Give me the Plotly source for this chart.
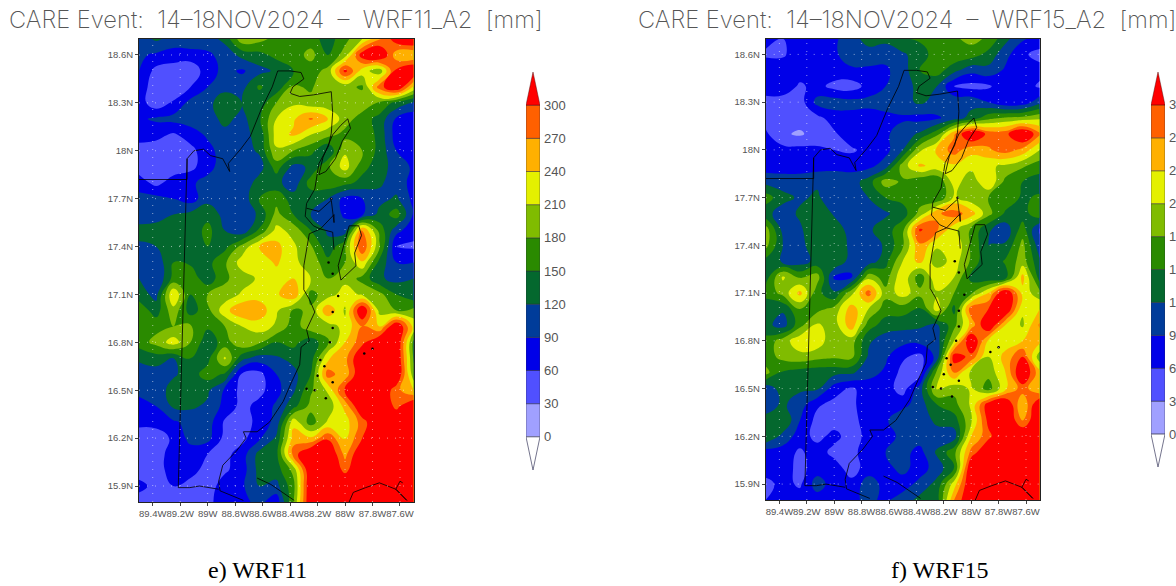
import plotly.graph_objects as go

lons = [-89.5, -89.375, -89.25, -89.125, -89.0, -88.875, -88.75, -88.625, -88.5,
        -88.375, -88.25, -88.125, -88.0, -87.875, -87.75, -87.625, -87.5]
lats = [18.7, 18.6, 18.5, 18.4, 18.3, 18.2, 18.1, 18.0, 17.9, 17.8, 17.7, 17.6, 17.5, 17.4, 17.3,
        17.2, 17.1, 17.0, 16.9, 16.8, 16.7, 16.6, 16.5, 16.4, 16.3, 16.2, 16.1, 16.0, 15.9, 15.8]

wrf11 = [
 [105,125,110,115,105,130,200,190,170,160,165,135,170,210,265,320,340],
 [95,85,75,75,85,100,130,140,160,165,190,150,195,320,345,250,240],
 [90,50,45,40,75,100,85,110,125,150,165,190,310,225,190,310,340],
 [75,45,30,60,90,110,110,155,130,185,175,205,190,175,285,340,235],
 [75,40,65,100,110,140,120,130,180,205,190,190,185,200,175,140,115],
 [85,95,100,105,105,130,110,145,210,235,275,240,195,165,140,85,70],
 [75,70,55,75,95,110,115,125,225,245,210,190,170,175,140,75,80],
 [45,42,40,50,80,105,105,125,205,180,160,120,205,180,140,90,65],
 [45,42,42,50,80,105,100,105,165,110,125,175,225,160,135,105,85],
 [75,50,75,85,100,100,95,135,130,100,165,170,160,140,125,105,80],
 [100,100,90,75,110,115,100,150,170,135,130,120,80,90,110,125,80],
 [105,100,120,130,140,110,100,125,190,150,120,110,85,85,130,165,85],
 [130,140,140,130,160,120,100,155,220,200,150,115,105,275,170,100,70],
 [115,120,130,145,150,140,190,240,250,215,185,130,175,300,185,60,55],
 [105,100,150,145,140,175,225,220,245,215,200,160,180,235,140,90,90],
 [120,90,160,170,130,175,195,215,225,240,210,180,200,170,125,110,120],
 [135,110,240,150,180,190,215,225,235,265,170,195,225,205,190,150,125],
 [170,135,200,135,170,230,265,260,215,175,185,265,205,340,200,180,190],
 [175,170,180,185,155,180,210,225,205,165,200,195,220,270,240,340,230],
 [165,190,225,180,130,165,205,185,150,160,130,175,240,290,340,340,170],
 [125,135,120,150,140,215,130,105,115,130,135,235,260,340,340,340,175],
 [105,105,115,135,165,145,55,50,90,110,150,285,250,340,340,340,190],
 [100,100,135,130,125,85,50,50,80,115,175,215,310,340,340,280,240],
 [75,90,125,125,115,80,50,70,95,140,190,190,250,340,340,290,340],
 [65,70,85,100,105,55,45,70,100,230,165,215,225,285,340,340,340],
 [50,45,65,100,100,50,50,85,125,255,245,295,235,300,340,340,340],
 [45,50,70,75,60,50,75,130,140,285,340,340,260,340,340,340,340],
 [45,45,75,70,50,55,75,130,135,190,340,340,290,340,340,340,340],
 [70,50,60,50,45,75,85,120,110,170,340,340,340,340,340,340,340],
 [45,45,45,50,55,70,80,100,70,180,340,340,340,340,340,340,340],
]

wrf15 = [
 [70,60,75,85,85,105,135,130,150,155,170,175,190,175,130,95,80],
 [55,55,80,85,85,105,105,100,115,135,165,175,165,140,100,65,50],
 [80,80,75,75,80,85,85,85,105,150,165,130,100,110,85,75,70],
 [75,80,55,70,50,45,70,90,105,130,120,60,50,55,80,75,55],
 [50,45,45,100,105,100,100,105,110,125,110,110,110,90,65,70,110],
 [50,40,45,50,75,80,75,80,85,80,85,105,130,170,185,190,205],
 [65,35,25,45,55,80,85,85,105,125,170,265,345,290,290,345,275],
 [70,70,70,65,60,55,70,80,120,205,245,285,250,265,285,260,210],
 [75,75,75,75,85,80,80,105,195,245,230,235,220,215,205,185,165],
 [110,105,105,115,100,105,135,195,175,155,150,225,190,240,170,150,135],
 [165,130,115,125,100,110,120,150,160,165,150,215,190,180,170,145,155],
 [130,105,125,150,115,105,105,115,135,190,265,285,255,190,145,135,175],
 [195,110,115,145,140,105,115,135,170,305,275,220,175,125,100,165,85],
 [190,120,110,140,150,110,100,125,175,265,215,240,175,120,125,190,100],
 [140,115,105,130,150,105,100,140,210,250,190,225,175,120,155,195,125],
 [135,215,175,195,85,85,200,165,235,160,240,210,140,125,135,250,135],
 [160,190,250,160,125,200,285,190,225,190,205,180,175,240,340,230,190],
 [130,125,180,170,190,255,210,165,165,145,225,140,290,300,340,215,240],
 [130,105,170,215,195,260,165,135,130,125,115,170,250,340,240,205,275],
 [160,195,230,230,185,195,125,105,100,100,105,210,340,235,225,240,250],
 [165,190,200,190,185,190,115,95,65,50,100,320,290,210,250,300,190],
 [190,145,135,130,130,125,100,85,50,45,190,270,200,190,240,340,250],
 [100,135,125,125,75,55,75,75,45,105,215,190,215,165,235,285,240],
 [105,125,105,65,50,50,85,90,80,105,150,170,215,320,340,240,340],
 [130,150,90,50,45,45,80,85,115,95,130,135,205,310,340,270,340],
 [150,110,75,50,70,45,70,75,100,105,100,105,240,290,340,340,340],
 [75,75,55,75,50,45,85,90,100,80,125,170,280,340,340,340,340],
 [75,75,50,75,75,45,75,80,100,75,105,145,340,340,340,340,340],
 [50,70,55,105,75,70,105,80,75,100,130,225,340,340,340,340,340],
 [60,70,75,75,75,85,95,85,105,130,135,270,340,340,340,340,340],
]

levels = [0, 30, 60, 90, 120, 150, 180, 210, 240, 270, 300]
band_colors = ["#ffffff", "#a0a0ff", "#5050ff", "#0000e8", "#003c9a", "#04682e",
               "#2a8a00", "#80bc00", "#e4f000", "#ffb000", "#ff6000", "#ff0000"]

lon_ticks = [-89.4, -89.2, -89.0, -88.8, -88.6, -88.4, -88.2, -88.0, -87.8, -87.6]
lon_labels = ["89.4W", "89.2W", "89W", "88.8W", "88.6W", "88.4W", "88.2W", "88W", "87.8W", "87.6W"]
lat_ticks = [15.9, 16.2, 16.5, 16.8, 17.1, 17.4, 17.7, 18.0, 18.3, 18.6]
lat_labels = ["15.9N", "16.2N", "16.5N", "16.8N", "17.1N", "17.4N", "17.7N", "18N", "18.3N", "18.6N"]

coast_lon = [-89.15,-89.10,-89.03,-88.98,-88.89,-88.84,-88.85,-88.76,-88.69,-88.61,-88.53,-88.49,-88.40,
             -88.32,-88.30,-88.38,-88.40,-88.33,-88.23,-88.10,-88.09,-88.10,-88.12,-88.19,-88.22,-88.28,
             -88.29,-88.23,-88.18,-88.26,-88.30,-88.30,-88.26,-88.22,-88.28,-88.26,-88.32,-88.33,-88.39,
             -88.45,-88.55,-88.64,-88.74,-88.72,-88.79,-88.89,-88.92,-88.91,-88.74]
coast_lat = [17.95,18.00,18.01,17.97,17.95,17.87,17.92,18.01,18.09,18.26,18.40,18.50,18.50,
             18.49,18.45,18.40,18.36,18.34,18.35,18.37,18.24,18.11,18.03,17.92,17.76,17.67,
             17.59,17.53,17.51,17.48,17.28,17.13,17.07,16.99,16.88,16.81,16.77,16.66,16.55,
             16.43,16.30,16.24,16.24,16.20,16.12,16.03,15.93,15.87,15.81]
border_lon = [-89.5, -89.15, -89.15, -89.214, -89.13, -89.06, -88.92]
border_lat = [17.82, 17.82, 17.95, 15.89, 15.89, 15.90, 15.88]
honduras_lon = [-88.64, -88.54, -88.37]
honduras_lat = [15.95, 15.91, 15.81]
honduras2_lon = [-87.97, -87.94, -87.85, -87.75, -87.63, -87.55, -87.63, -87.60, -87.58]
honduras2_lat = [15.80, 15.86, 15.89, 15.92, 15.88, 15.81, 15.88, 15.93, 15.92]
ambergris_lon = [-87.98, -87.96, -88.02, -88.07, -88.14, -88.19, -88.16, -88.09, -88.03, -87.98]
ambergris_lat = [18.20, 18.14, 18.06, 17.95, 17.87, 17.85, 17.96, 18.10, 18.16, 18.20]
turneffe_lon = [-87.97, -87.90, -87.88, -87.93, -87.92, -88.03, -88.05, -88.00, -87.97]
turneffe_lat = [17.53, 17.53, 17.47, 17.36, 17.28, 17.19, 17.28, 17.43, 17.53]
lagoon_lon = [-88.28, -88.19, -88.10, -88.08, -88.08, -88.18, -88.09, -88.08]
lagoon_lat = [17.64, 17.62, 17.69, 17.55, 17.60, 17.51, 17.49, 17.38]
cay_lon = [-88.09, -88.05, -88.09, -88.09, -88.11, -88.18, -88.22, -88.28, -88.09, -87.86, -87.80,
           -88.12, -88.15, -88.20, -88.14, -88.10]
cay_lat = [17.23, 17.09, 16.99, 16.89, 16.80, 16.69, 16.50, 16.51, 16.55, 16.73, 16.76,
           17.30, 16.65, 16.59, 16.45, 17.70]

title_left = "CARE Event:  14\u201318NOV2024  \u2013  WRF11_A2  [mm]"
title_right = "CARE Event:  14\u201318NOV2024  \u2013  WRF15_A2  [mm]"

W, H = 1176, 586
fx = lambda a, b: [a / W, b / W]
fy = lambda top, bottom: [1 - bottom / H, 1 - top / H]

scale = [[i / (len(band_colors) - 1), c] for i, c in enumerate(band_colors)]
TICK = "#555555"
fig = go.Figure()

panels = [("x", "y", wrf11), ("x2", "y2", wrf15)]
for xa, ya, z in panels:
    fig.add_trace(go.Contour(x=lons, y=lats, z=z, xaxis=xa, yaxis=ya, colorscale=scale, showscale=False,
                             autocontour=False,
                             contours=dict(start=levels[0], end=levels[-1], size=30, coloring="fill", showlines=False),
                             line=dict(width=0, smoothing=1.3), hoverinfo="skip"))
    for lo, la in [(coast_lon, coast_lat), (border_lon, border_lat), (honduras_lon, honduras_lat),
                   (honduras2_lon, honduras2_lat), (ambergris_lon, ambergris_lat),
                   (turneffe_lon, turneffe_lat), (lagoon_lon, lagoon_lat)]:
        fig.add_trace(go.Scatter(x=lo, y=la, xaxis=xa, yaxis=ya, mode="lines",
                                 line=dict(color="#000000", width=0.8), hoverinfo="skip"))
    fig.add_trace(go.Scatter(x=cay_lon, y=cay_lat, xaxis=xa, yaxis=ya, mode="markers",
                             marker=dict(color="#000000", size=2.5), hoverinfo="skip"))
    # dotted graticule above the fill
    for t in lon_ticks:
        fig.add_trace(go.Scatter(x=[t, t], y=[lats[-1], lats[0]], xaxis=xa, yaxis=ya, mode="lines",
                                 line=dict(color="rgba(255,255,255,0.55)", width=1, dash="1px 7px"), hoverinfo="skip"))
    for t in lat_ticks:
        fig.add_trace(go.Scatter(x=[lons[0], lons[-1]], y=[t, t], xaxis=xa, yaxis=ya, mode="lines",
                                 line=dict(color="rgba(255,255,255,0.55)", width=1, dash="1px 7px"), hoverinfo="skip"))

# colour bars on their own axes, drawn from the levels
for xa, ya in [("x3", "y3"), ("x4", "y4")]:
    for lo, c in zip(levels[:-1], band_colors[1:-1]):
        fig.add_trace(go.Bar(x=[0], y=[30], base=[lo], width=[1], xaxis=xa, yaxis=ya,
                             marker=dict(color=c, line=dict(color="rgba(40,40,60,0.7)", width=0.7)), hoverinfo="skip"))
    fig.add_trace(go.Scatter(x=[-0.5, 0.5, 0, -0.5], y=[levels[-1], levels[-1], levels[-1] + 30, levels[-1]],
                             xaxis=xa, yaxis=ya, mode="lines", fill="toself", fillcolor=band_colors[-1],
                             line=dict(color="rgba(60,0,0,0.6)", width=0.7), hoverinfo="skip"))
    fig.add_trace(go.Scatter(x=[-0.5, 0.5, 0, -0.5], y=[levels[0], levels[0], levels[0] - 30, levels[0]],
                             xaxis=xa, yaxis=ya, mode="lines", fill="toself", fillcolor=band_colors[0],
                             line=dict(color="#505070", width=0.8), hoverinfo="skip"))

map_x = dict(range=[lons[0], lons[-1]], tickmode="array", tickvals=lon_ticks, ticktext=lon_labels,
             ticks="outside", ticklen=3, tickwidth=1, tickcolor="#444", showgrid=False, zeroline=False,
             showline=True, linecolor="#222", linewidth=1, mirror=True, automargin=False, tickangle=0,
             tickfont=dict(family="Liberation Sans", size=9.5, color=TICK))
map_y = dict(range=[lats[-1], lats[0]], tickmode="array", tickvals=lat_ticks, ticktext=lat_labels,
             ticks="outside", ticklen=3, tickwidth=1, tickcolor="#444", showgrid=False, zeroline=False,
             showline=True, linecolor="#222", linewidth=1, mirror=True, automargin=False,
             tickfont=dict(family="Liberation Sans", size=9.5, color=TICK))
bar_x = dict(range=[-0.5, 0.5], visible=False, fixedrange=True, automargin=False)
bar_y = dict(range=[levels[0] - 30, levels[-1] + 30], side="right", tickmode="array", tickvals=levels,
             ticktext=[str(v) for v in levels], ticks="", showgrid=False, zeroline=False, showline=False,
             automargin=False, ticklabelstandoff=3, tickfont=dict(family="Liberation Sans", size=13, color=TICK))

title_font = dict(family="Inter", size=23.7, weight=200, color="#555")
fig.update_layout(
    width=W, height=H, margin=dict(l=0, r=0, t=0, b=0), showlegend=False, barmode="overlay",
    paper_bgcolor="white", plot_bgcolor="white",
    xaxis=dict(map_x, domain=fx(139, 413.7), anchor="y"),
    yaxis=dict(map_y, domain=fy(39, 502), anchor="x"),
    xaxis2=dict(map_x, domain=fx(765.7, 1039.7), anchor="y2"),
    yaxis2=dict(map_y, domain=fy(38.5, 500), anchor="x2"),
    xaxis3=dict(bar_x, domain=fx(526, 540), anchor="y3"),
    yaxis3=dict(bar_y, domain=fy(72, 470), anchor="x3"),
    xaxis4=dict(bar_x, domain=fx(1151, 1165), anchor="y4"),
    yaxis4=dict(bar_y, domain=fy(72, 467), anchor="x4"),
    annotations=[
        dict(text=title_left, x=7 / W, y=1 - 20 / H, xref="paper", yref="paper", xanchor="left", yanchor="middle",
             showarrow=False, font=title_font),
        dict(text=title_right, x=636 / W, y=1 - 20 / H, xref="paper", yref="paper", xanchor="left", yanchor="middle",
             showarrow=False, font=title_font),
        dict(text="e) WRF11", x=257 / W, y=1 - 570 / H, xref="paper", yref="paper", xanchor="center", yanchor="middle",
             showarrow=False, font=dict(family="Liberation Serif", size=24, color="#000")),
        dict(text="f) WRF15", x=940 / W, y=1 - 570 / H, xref="paper", yref="paper", xanchor="center", yanchor="middle",
             showarrow=False, font=dict(family="Liberation Serif", size=24, color="#000")),
    ],
)
fig.write_html("out.html", config=dict(displayModeBar=False), post_script="document.body.style.margin='0';document.body.style.overflow='hidden';")
